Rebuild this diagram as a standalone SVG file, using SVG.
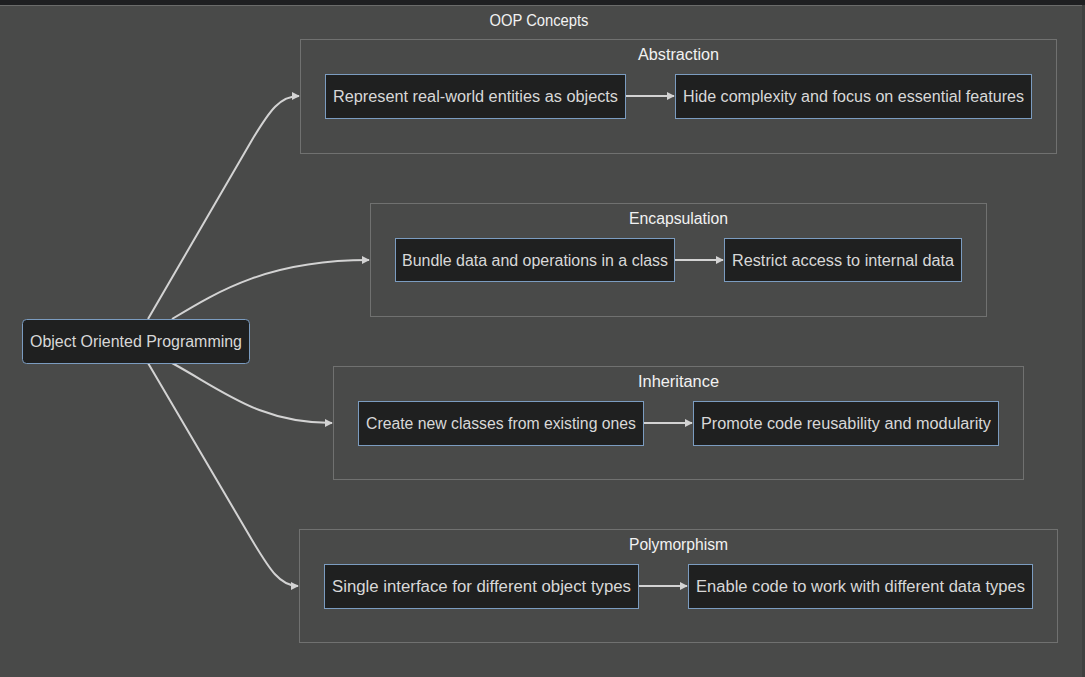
<svg xmlns="http://www.w3.org/2000/svg" width="1085" height="677" viewBox="0 0 1085 677">
<style>
.bg{fill:#494a49}
.cl{fill:none;stroke:#707170;stroke-width:1}
.nd{fill:#1f2020;stroke:#7b9cc0;stroke-width:1}
.lb{font-family:"Liberation Sans","DejaVu Sans",sans-serif;font-size:16px;fill:#d8d8d8;text-anchor:middle}
.tt{font-family:"Liberation Sans","DejaVu Sans",sans-serif;font-size:16px;fill:#f2f2f2;text-anchor:middle}
.ed{fill:none;stroke:#d3d3d3;stroke-width:2}
</style>
<defs>
<marker id="ah" viewBox="0 0 10 10" refX="9" refY="5" markerWidth="8" markerHeight="8" markerUnits="userSpaceOnUse" orient="auto">
<path d="M0,0 L10,5 L0,10 z" fill="#d3d3d3"/>
</marker>
</defs>
<rect x="0" y="0" width="1085" height="677" class="bg"/>
<rect x="0" y="0" width="1085" height="5" fill="#1e1f21"/>
<line x1="0" y1="5.5" x2="1085" y2="5.5" stroke="#6a6b6a" stroke-width="1"/>
<rect x="1082" y="5" width="3" height="672" fill="#3f403f"/>

<g id="oop-concepts">
<text x="539" y="26" class="tt" textLength="99" lengthAdjust="spacingAndGlyphs">OOP Concepts</text>
</g>

<g id="abstraction">
<rect x="300.5" y="39.5" width="756" height="114" class="cl"/>
<text x="678.5" y="60" class="tt" textLength="81" lengthAdjust="spacingAndGlyphs">Abstraction</text>
</g>
<g id="encapsulation">
<rect x="370.5" y="203.5" width="616" height="113" class="cl"/>
<text x="678.5" y="224" class="tt" textLength="99" lengthAdjust="spacingAndGlyphs">Encapsulation</text>
</g>
<g id="inheritance">
<rect x="333.5" y="366.5" width="690" height="113" class="cl"/>
<text x="678.5" y="387" class="tt" textLength="81" lengthAdjust="spacingAndGlyphs">Inheritance</text>
</g>
<g id="polymorphism">
<rect x="299.5" y="529.5" width="758" height="113" class="cl"/>
<text x="678.5" y="550" class="tt" textLength="99" lengthAdjust="spacingAndGlyphs">Polymorphism</text>
</g>

<g id="connectors">
<path class="ed" d="M148,319 L252,140 C270,110 280,96 299,96" marker-end="url(#ah)"/>
<path class="ed" d="M172,319 C220,290 270,260 369,260" marker-end="url(#ah)"/>
<path class="ed" d="M172,363 C225,392 260,423 332,423" marker-end="url(#ah)"/>
<path class="ed" d="M148,363 L252,540 C270,570 280,586 298,586" marker-end="url(#ah)"/>
<path class="ed" d="M625,96 L674,96" marker-end="url(#ah)"/>
<path class="ed" d="M674,260 L723,260" marker-end="url(#ah)"/>
<path class="ed" d="M643,423 L692,423" marker-end="url(#ah)"/>
<path class="ed" d="M638,586 L687,586" marker-end="url(#ah)"/>
</g>

<g id="oop">
<rect x="22.5" y="319.5" width="227" height="44" rx="4" class="nd"/>
<text x="136" y="347" class="lb" textLength="212" lengthAdjust="spacingAndGlyphs">Object Oriented Programming</text>
</g>

<g id="a1">
<rect x="325.5" y="74.5" width="300" height="44" class="nd"/>
<text x="475.5" y="102" class="lb" textLength="285" lengthAdjust="spacingAndGlyphs">Represent real-world entities as objects</text>
</g>
<g id="a2">
<rect x="675.5" y="74.5" width="356" height="44" class="nd"/>
<text x="853.5" y="102" class="lb" textLength="341" lengthAdjust="spacingAndGlyphs">Hide complexity and focus on essential features</text>
</g>

<g id="e1">
<rect x="395.5" y="238.5" width="279" height="43" class="nd"/>
<text x="535" y="266" class="lb" textLength="266" lengthAdjust="spacingAndGlyphs">Bundle data and operations in a class</text>
</g>
<g id="e2">
<rect x="724.5" y="238.5" width="237" height="43" class="nd"/>
<text x="843" y="266" class="lb" textLength="222" lengthAdjust="spacingAndGlyphs">Restrict access to internal data</text>
</g>

<g id="i1">
<rect x="358.5" y="401.5" width="285" height="44" class="nd"/>
<text x="501" y="429" class="lb" textLength="270" lengthAdjust="spacingAndGlyphs">Create new classes from existing ones</text>
</g>
<g id="i2">
<rect x="693.5" y="401.5" width="305" height="44" class="nd"/>
<text x="846" y="429" class="lb" textLength="290" lengthAdjust="spacingAndGlyphs">Promote code reusability and modularity</text>
</g>

<g id="p1">
<rect x="324.5" y="564.5" width="314" height="44" class="nd"/>
<text x="481.5" y="592" class="lb" textLength="299" lengthAdjust="spacingAndGlyphs">Single interface for different object types</text>
</g>
<g id="p2">
<rect x="688.5" y="564.5" width="344" height="44" class="nd"/>
<text x="860.5" y="592" class="lb" textLength="329" lengthAdjust="spacingAndGlyphs">Enable code to work with different data types</text>
</g>
</svg>
